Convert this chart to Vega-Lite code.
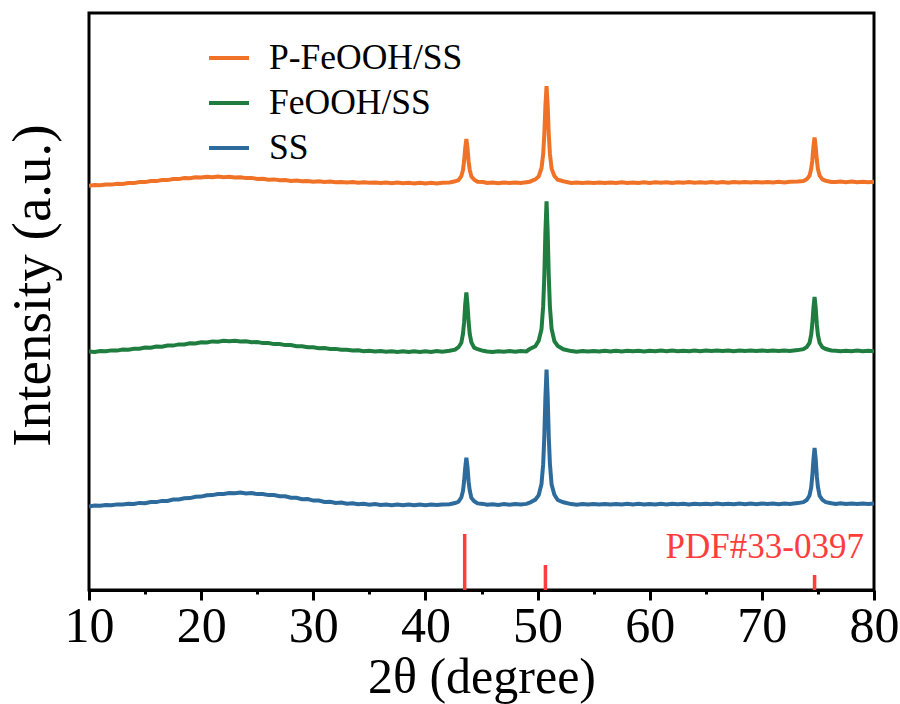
{
"$schema": "https://vega.github.io/schema/vega-lite/v6.json",
"width": 785, "height": 577,
"autosize": "none",
"padding": {"left": 89, "top": 13, "right": 26, "bottom": 114},
"background": "white",
"config": {"font": "Liberation Serif", "view": {"stroke": "black", "strokeWidth": 3}},
"layer": [
{
"data": {"values": [
{"x":10,"a":404.3,"b":238.4,"c":83.6},{"x":10.5,"a":405.0,"b":238.1,"c":84.4},{"x":11,"a":404.8,"b":238.9,"c":84.2},{"x":11.5,"a":405.6,"b":238.7,"c":85.0},
{"x":12,"a":405.4,"b":239.6,"c":84.7},{"x":12.5,"a":406.3,"b":239.4,"c":85.6},{"x":13,"a":406.1,"b":240.4,"c":85.4},{"x":13.5,"a":407.0,"b":240.3,"c":86.2},
{"x":14,"a":406.9,"b":241.3,"c":86.0},{"x":14.5,"a":408.0,"b":241.2,"c":87.1},{"x":15,"a":407.9,"b":242.4,"c":86.8},{"x":15.5,"a":409.0,"b":242.3,"c":88.0},
{"x":16,"a":408.9,"b":243.4,"c":87.9},{"x":16.5,"a":410.0,"b":243.3,"c":89.1},{"x":17,"a":409.9,"b":244.5,"c":89.0},{"x":17.5,"a":411.0,"b":244.4,"c":90.4},
{"x":18,"a":410.9,"b":245.6,"c":90.5},{"x":18.5,"a":411.9,"b":245.5,"c":91.8},{"x":19,"a":411.7,"b":246.7,"c":91.9},{"x":19.5,"a":412.7,"b":246.6,"c":93.3},
{"x":20,"a":412.4,"b":247.7,"c":93.4},{"x":20.5,"a":413.2,"b":247.5,"c":94.8},{"x":21,"a":412.7,"b":248.6,"c":94.9},{"x":21.5,"a":413.4,"b":248.3,"c":96.0},
{"x":22,"a":412.8,"b":249.2,"c":96.0},{"x":22.5,"a":413.3,"b":248.8,"c":96.9},{"x":23,"a":412.5,"b":249.2,"c":96.7},{"x":23.5,"a":412.8,"b":248.5,"c":97.4},
{"x":24,"a":411.9,"b":248.7,"c":96.6},{"x":24.5,"a":412.1,"b":247.8,"c":96.9},{"x":25,"a":411.1,"b":247.9,"c":95.9},{"x":25.5,"a":411.3,"b":246.9,"c":96.0},
{"x":26,"a":410.3,"b":247.0,"c":94.9},{"x":26.5,"a":410.6,"b":245.9,"c":95.0},{"x":27,"a":409.7,"b":246.0,"c":93.7},{"x":27.5,"a":410.0,"b":244.9,"c":93.8},
{"x":28,"a":409.1,"b":244.9,"c":92.3},{"x":28.5,"a":409.5,"b":243.8,"c":92.3},{"x":29,"a":408.7,"b":243.8,"c":90.8},{"x":29.5,"a":409.1,"b":242.7,"c":90.9},
{"x":30,"a":408.3,"b":242.8,"c":89.4},{"x":30.5,"a":408.7,"b":241.8,"c":89.5},{"x":31,"a":407.9,"b":241.9,"c":88.1},{"x":31.5,"a":408.4,"b":241.0,"c":88.3},
{"x":32,"a":407.7,"b":241.1,"c":87.1},{"x":32.5,"a":408.1,"b":240.2,"c":87.4},{"x":33,"a":407.4,"b":240.3,"c":86.3},{"x":33.5,"a":407.9,"b":239.6,"c":86.7},
{"x":34,"a":407.2,"b":239.7,"c":85.7},{"x":34.5,"a":407.8,"b":238.8,"c":86.2},{"x":35,"a":407.2,"b":239.3,"c":85.3},{"x":35.5,"a":407.6,"b":238.5,"c":85.9},
{"x":36,"a":407.0,"b":239.0,"c":85.0},{"x":36.5,"a":407.5,"b":238.3,"c":85.6},{"x":37,"a":406.8,"b":238.8,"c":84.8},{"x":37.5,"a":407.4,"b":238.1,"c":85.5},
{"x":38,"a":406.8,"b":238.7,"c":84.7},{"x":38.5,"a":407.3,"b":238.0,"c":85.4},{"x":39,"a":406.6,"b":238.7,"c":84.7},{"x":39.5,"a":407.3,"b":238.1,"c":85.4},
{"x":40,"a":406.6,"b":238.8,"c":84.8},{"x":40.5,"a":407.2,"b":238.1,"c":85.5},{"x":41,"a":406.6,"b":238.9,"c":84.9},{"x":41.5,"a":407.3,"b":238.2,"c":85.6},
{"x":42.15,"a":407.5,"b":239.2,"c":85.7},{"x":42.65,"a":408.7,"b":240.4,"c":87.0},{"x":42.95,"a":409.9,"b":242.8,"c":88.3},{"x":43.2,"a":413.8,"b":247.2,"c":92.5},
{"x":43.35,"a":420.0,"b":256.4,"c":99.1},{"x":43.45,"a":429.2,"b":267.8,"c":108.9},{"x":43.55,"a":442.0,"b":285.9,"c":122.6},{"x":43.65,"a":451.0,"b":297.5,"c":132.2},
{"x":43.75,"a":442.4,"b":285.5,"c":123.0},{"x":43.85,"a":428.8,"b":268.2,"c":108.5},{"x":43.95,"a":420.4,"b":256.0,"c":99.5},{"x":44.1,"a":413.4,"b":247.6,"c":92.1},
{"x":44.35,"a":410.3,"b":242.4,"c":88.7},{"x":44.65,"a":408.3,"b":240.8,"c":86.6},{"x":45.15,"a":407.9,"b":239.2,"c":86.1},
{"x":45.5,"a":407.0,"b":238.6,"c":85.2},{"x":46,"a":407.5,"b":238.1,"c":85.8},{"x":46.5,"a":406.8,"b":238.8,"c":85.1},{"x":47,"a":407.4,"b":238.2,"c":85.9},
{"x":47.5,"a":406.9,"b":238.9,"c":85.2},{"x":48,"a":407.6,"b":238.3,"c":85.9},{"x":48.5,"a":407.0,"b":239.0,"c":85.4},{"x":49,"a":407.8,"b":238.6,"c":86.1},
{"x":49.3,"a":408.3,"b":241.0,"c":87.3},{"x":49.8,"a":410.6,"b":243.7,"c":90.4},{"x":50.1,"a":413.6,"b":249.3,"c":94.8},{"x":50.35,"a":421.8,"b":260.9,"c":106.0},
{"x":50.5,"a":435.9,"b":283.8,"c":125.8},{"x":50.6,"a":455.7,"b":313.4,"c":153.2},{"x":50.7,"a":484.4,"b":358.8,"c":193.3},{"x":50.8,"a":504.0,"b":388.6,"c":220.5},
{"x":50.9,"a":484.8,"b":358.4,"c":193.7},{"x":51.0,"a":455.3,"b":313.8,"c":152.8},{"x":51.1,"a":436.3,"b":283.4,"c":126.2},{"x":51.25,"a":421.4,"b":261.3,"c":105.6},
{"x":51.5,"a":414.0,"b":248.9,"c":95.2},{"x":51.8,"a":410.2,"b":244.1,"c":90.0},{"x":52.3,"a":408.7,"b":240.7,"c":87.7},
{"x":53,"a":407.1,"b":238.9,"c":85.9},{"x":53.5,"a":407.6,"b":238.3,"c":85.3},{"x":54,"a":406.9,"b":239.0,"c":86.0},{"x":54.5,"a":407.5,"b":238.4,"c":85.4},
{"x":55,"a":407.0,"b":239.1,"c":86.1},{"x":55.5,"a":407.6,"b":238.5,"c":85.5},{"x":56,"a":406.9,"b":239.2,"c":86.0},{"x":56.5,"a":407.5,"b":238.6,"c":85.4},
{"x":57,"a":407.0,"b":239.2,"c":86.1},{"x":57.5,"a":407.7,"b":238.6,"c":85.5},{"x":58,"a":407.1,"b":239.3,"c":86.2},{"x":58.5,"a":407.6,"b":238.7,"c":85.6},
{"x":59,"a":407.0,"b":239.2,"c":86.2},{"x":59.5,"a":407.7,"b":238.6,"c":85.5},{"x":60,"a":407.1,"b":239.3,"c":86.1},{"x":60.5,"a":407.8,"b":238.7,"c":85.6},
{"x":61,"a":407.2,"b":239.4,"c":86.2},{"x":61.5,"a":407.7,"b":238.8,"c":85.6},{"x":62,"a":407.1,"b":239.4,"c":86.3},{"x":62.5,"a":407.8,"b":238.8,"c":85.7},
{"x":63,"a":407.2,"b":239.3,"c":86.2},{"x":63.5,"a":407.9,"b":238.7,"c":85.6},{"x":64,"a":407.3,"b":239.4,"c":86.3},{"x":64.5,"a":407.8,"b":238.8,"c":85.7},
{"x":65,"a":407.2,"b":239.5,"c":86.3},{"x":65.5,"a":407.9,"b":238.9,"c":85.7},{"x":66,"a":407.3,"b":239.5,"c":86.4},{"x":66.5,"a":407.9,"b":238.9,"c":85.8},
{"x":67,"a":407.3,"b":239.4,"c":86.3},{"x":67.5,"a":408.0,"b":238.8,"c":85.7},{"x":68,"a":407.4,"b":239.5,"c":86.4},{"x":68.5,"a":408.0,"b":238.9,"c":85.8},
{"x":69,"a":407.4,"b":239.6,"c":86.4},{"x":69.5,"a":408.1,"b":239.0,"c":85.8},{"x":70,"a":407.5,"b":239.6,"c":86.5},{"x":70.5,"a":408.1,"b":239.0,"c":85.9},
{"x":71,"a":407.5,"b":239.5,"c":86.4},{"x":71.5,"a":408.2,"b":238.9,"c":85.8},{"x":72,"a":407.6,"b":239.6,"c":86.5},{"x":72.5,"a":408.2,"b":239.0,"c":85.9},
{"x":73.2,"a":408.4,"b":239.9,"c":86.9},{"x":73.7,"a":409.0,"b":240.8,"c":87.9},{"x":74.0,"a":410.8,"b":242.9,"c":90.0},{"x":74.25,"a":414.2,"b":247.0,"c":94.5},
{"x":74.4,"a":421.2,"b":255.4,"c":102.6},{"x":74.5,"a":429.8,"b":266.2,"c":114.2},{"x":74.6,"a":443.6,"b":282.0,"c":130.6},{"x":74.7,"a":452.5,"b":293.0,"c":142.0},
{"x":74.8,"a":443.4,"b":282.4,"c":131.0},{"x":74.9,"a":430.2,"b":265.8,"c":113.8},{"x":75.0,"a":420.8,"b":255.0,"c":103.0},{"x":75.15,"a":414.4,"b":247.2,"c":94.2},
{"x":75.4,"a":410.6,"b":242.7,"c":90.1},{"x":75.7,"a":409.2,"b":241.0,"c":87.9},{"x":76.2,"a":408.1,"b":239.6,"c":86.8},
{"x":76.6,"a":407.9,"b":239.2,"c":86.1},{"x":77,"a":408.4,"b":238.7,"c":86.7},{"x":77.5,"a":407.8,"b":239.3,"c":86.0},{"x":78,"a":408.4,"b":238.8,"c":86.6},
{"x":78.5,"a":407.8,"b":239.4,"c":86.0},{"x":79,"a":408.3,"b":238.8,"c":86.6},{"x":79.5,"a":407.7,"b":239.3,"c":86.0},{"x":80,"a":408.2,"b":238.8,"c":86.5}
]},
"transform": [{"fold": ["a", "b", "c"], "as": ["s", "v"]}],
"mark": {"type": "line", "strokeWidth": 4, "clip": true},
"encoding": {
"x": {"field": "x", "type": "quantitative",
 "scale": {"domain": [10, 80], "nice": false, "zero": false},
 "axis": {"values": [10,15,20,25,30,35,40,45,50,55,60,65,70,75,80],
  "labelExpr": "datum.value % 10 === 0 ? datum.label : ''",
  "tickSize": {"condition": {"test": "datum.value % 10 !== 0", "value": 4}, "value": 10},
  "tickWidth": 3, "tickColor": "black", "domainColor": "black", "domainWidth": 3,
  "labelFontSize": 50, "labelFont": "Liberation Serif", "labelColor": "black", "labelPadding": 1, "labelFlush": false, "labelOverlap": false,
  "title": "2θ (degree)", "titleFontSize": 50, "titleFont": "Liberation Serif", "titleFontWeight": "normal", "titleColor": "black", "titlePadding": 1,
  "grid": false}},
"y": {"field": "v", "type": "quantitative",
 "scale": {"domain": [0, 577], "nice": false, "zero": false},
 "axis": {"ticks": false, "labels": false, "domain": false, "grid": false,
  "title": "Intensity (a.u.)", "titleFontSize": 55, "titleFont": "Liberation Serif", "titleFontWeight": "normal", "titleColor": "black", "titlePadding": 28, "titleY": 272}},
"color": {"field": "s", "type": "nominal",
 "scale": {"domain": ["a", "b", "c"], "range": ["#f07226", "#1e7d3f", "#2d6b9c"]},
 "legend": {"orient": "none", "legendX": 118, "legendY": 23, "title": null, "padding": 0,
  "symbolType": "stroke", "symbolSize": 1600, "symbolStrokeWidth": 4,
  "labelFontSize": 35.5, "labelFont": "Liberation Serif", "labelColor": "black", "labelOffset": 18, "labelLimit": 0,
  "rowPadding": 4,
  "labelExpr": "{'a': 'P-FeOOH/SS', 'b': 'FeOOH/SS', 'c': 'SS'}[datum.label]"}}
}
},
{
"data": {"values": [{"x": 43.5, "h": 56, "z": 0}, {"x": 50.7, "h": 25, "z": 0}, {"x": 74.7, "h": 15, "z": 0}]},
"mark": {"type": "rule", "color": "#ff3d3d", "strokeWidth": 3.5},
"encoding": {
"x": {"field": "x", "type": "quantitative"},
"y": {"field": "z", "type": "quantitative"},
"y2": {"field": "h"}
}
},
{
"data": {"values": [{"x": 79.1, "y": 32, "t": "PDF#33-0397"}]},
"mark": {"type": "text", "align": "right", "baseline": "alphabetic", "fontSize": 35, "color": "#ff3d3d", "font": "Liberation Serif"},
"encoding": {
"x": {"field": "x", "type": "quantitative"},
"y": {"field": "y", "type": "quantitative"},
"text": {"field": "t"}
}
}
]
}
